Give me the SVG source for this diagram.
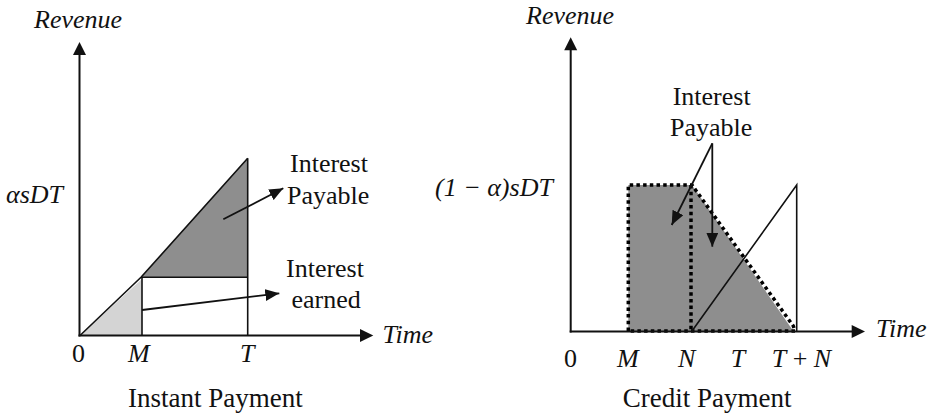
<svg xmlns="http://www.w3.org/2000/svg" width="933" height="414" viewBox="0 0 933 414">
<defs>
<style>
text{font-family:'Liberation Serif','Times New Roman','DejaVu Serif',serif;font-size:26px;fill:#111}
.i{font-style:italic}
.cap{font-size:27px}
.ax{stroke:#111;stroke-width:2;fill:none}
.ln{stroke:#111;stroke-width:1.6;fill:none}
.dk{fill:#8e8e8e}
.lt{fill:#d4d4d4}
.dot{stroke:#000;stroke-width:3.5;fill:none;stroke-dasharray:3.5 3.2}
.ar{stroke:#111;stroke-width:1.8;fill:none;marker-end:url(#ah)}
.head{fill:#111}
</style>
<marker id="ah" markerUnits="userSpaceOnUse" markerWidth="16" markerHeight="12" refX="14" refY="6" orient="auto">
<path d="M0,0 L14,6 L0,12 Z" fill="#111"/>
</marker>
</defs>
<rect width="933" height="414" fill="#fff"/>

<g id="left-chart">
<g id="left-light-region">
<polygon class="lt" points="80,335.5 142,279 142,335.5"/>
</g>
<g id="left-dark-region">
<polygon class="dk" points="141,277.3 247.7,158.3 247.7,277.3"/>
</g>
<g id="left-lines">
<polyline class="ln" points="80,335.5 141,277.3 247.7,158.3"/>
<line class="ln" x1="141" y1="277.3" x2="247.7" y2="277.3"/>
<line class="ln" x1="247.7" y1="158.3" x2="247.7" y2="335.5"/>
<line class="ln" x1="142" y1="277.3" x2="142" y2="335.5"/>
</g>
<g id="left-axes">
<line class="ax" x1="79.5" y1="336.5" x2="79.5" y2="54"/>
<polygon class="head" points="79.5,42 73,55 86,55"/>
<line class="ax" x1="78.5" y1="335.5" x2="361" y2="335.5"/>
<polygon class="head" points="373.3,335.5 360,329 360,342"/>
</g>
<g id="left-labels">
<text class="i" x="34" y="28">Revenue</text>
<text class="i" x="6" y="203">αsDT</text>
<text x="290" y="172">Interest</text>
<text x="287" y="204">Payable</text>
<text x="286" y="277">Interest</text>
<text x="291.5" y="308">earned</text>
<text class="i" x="382.5" y="343">Time</text>
<text x="72" y="362">0</text>
<text class="i" x="128" y="362">M</text>
<text class="i" x="240" y="362">T</text>
<text class="cap" x="128" y="407">Instant Payment</text>
</g>
</g>

<g id="right-chart">
<g id="right-dark-region">
<polygon class="dk" points="628.3,185 692,185 793.3,331 628.3,331"/>
</g>
<g id="right-dotted-outline">
<path class="dot" d="M628.3,331 V185 H692 L793.3,326 L795,331 H628.3"/>
<line class="dot" x1="691" y1="185" x2="691" y2="331"/>
</g>
<g id="right-lines">
<polyline class="ln" points="692,331 796.7,185 796.7,331"/>
</g>
<g id="right-axes">
<line class="ax" x1="570.7" y1="332.5" x2="570.7" y2="49"/>
<polygon class="head" points="570.7,37.3 564.2,50.3 577.2,50.3"/>
<line class="ax" x1="569.7" y1="331.5" x2="853" y2="331.5"/>
<polygon class="head" points="865,331.5 851.7,325 851.7,338"/>
</g>
<g id="right-labels">
<text class="i" x="526" y="24">Revenue</text>
<text class="i" x="435" y="196">(1 − α)sDT</text>
<text x="672.7" y="105">Interest</text>
<text x="670" y="136">Payable</text>
<text class="i" x="876" y="337">Time</text>
<text x="564" y="367">0</text>
<text class="i" x="617" y="367">M</text>
<text class="i" x="678" y="367">N</text>
<text class="i" x="730.7" y="367">T</text>
<text x="771.7" y="367"><tspan font-style="italic">T</tspan> + <tspan font-style="italic">N</tspan></text>
<text class="cap" x="622.7" y="407">Credit Payment</text>
</g>
</g>

<g id="connectors">
<line class="ar" x1="223.3" y1="219.3" x2="283.3" y2="188.3"/>
<line class="ar" x1="142" y1="310" x2="279.3" y2="293.3"/>
<line class="ar" x1="712.3" y1="143.3" x2="671.7" y2="225"/>
<line class="ar" x1="712.3" y1="143.3" x2="712.3" y2="246.7"/>
</g>
</svg>
